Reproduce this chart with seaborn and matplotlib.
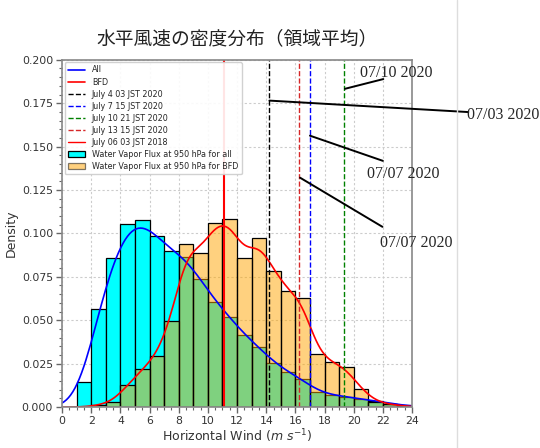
import numpy as np
import pandas as pd
import matplotlib
matplotlib.use("Agg")
import matplotlib.pyplot as plt
import seaborn as sns
from matplotlib.ticker import MultipleLocator
from matplotlib.lines import Line2D
from matplotlib.patches import Patch

# ---------------- data ----------------
all_bin_left = list(range(1, 24))
all_density = [0.0146, 0.0565, 0.0857, 0.1052, 0.1077, 0.0987, 0.0899, 0.0866,
               0.0736, 0.0607, 0.0520, 0.0413, 0.0347, 0.0255, 0.0202, 0.0160,
               0.0086, 0.0069, 0.0060, 0.0046, 0.0035, 0.0020, 0.0010]
bfd_bin_left = list(range(2, 24))
bfd_density = [0.0010, 0.0030, 0.0127, 0.0217, 0.0294, 0.0497, 0.0937, 0.0889,
               0.1062, 0.1081, 0.0860, 0.0972, 0.0785, 0.0668, 0.0630, 0.0305,
               0.0257, 0.0229, 0.0102, 0.0030, 0.0015, 0.0005]

event_labels = ["July 4 03 JST 2020", "July 7 15 JST 2020", "July 10 21 JST 2020",
                "July 13 15 JST 2020", "July 06 03 JST 2018"]
event_wind = [14.22, 17.0, 19.34, 16.25, 11.1]
event_colors = ["black", "blue", "green", "tab:red", "red"]
event_styles = ["--", "--", "--", "--", "-"]

annot_texts = ["07/10 2020", "07/03 2020", "07/07 2020", "07/07 2020"]
annot_xy = [(19.4, 0.1833), (14.22, 0.1765), (17.0, 0.1563), (16.32, 0.1321)]
annot_line_end = [(22.03, 0.1889), (27.86, 0.1699), (22.0, 0.1418), (21.97, 0.1038)]
annot_text_pos = [(20.4, 0.1925), (27.8, 0.1683), (20.9, 0.1343), (21.8, 0.0945)]

title = "水平風速の密度分布（領域平均）"

# ---------------- build tables ----------------
df_all = pd.DataFrame({"wind": np.array(all_bin_left) + 0.5, "w": all_density})
df_bfd = pd.DataFrame({"wind": np.array(bfd_bin_left) + 0.5, "w": bfd_density})
all_edges = all_bin_left + [all_bin_left[-1] + 1]
bfd_edges = bfd_bin_left + [bfd_bin_left[-1] + 1]

sns.set_style("ticks")
plt.rcParams["font.family"] = ["DejaVu Sans", "Noto Sans CJK JP"]

fig = plt.figure(figsize=(5.4, 4.48), dpi=100)
ax = fig.add_axes([0.115, 0.0915, 0.648, 0.775])

sns.histplot(data=df_all, x="wind", weights="w", bins=all_edges, stat="count",
             color="cyan", alpha=1.0, edgecolor="black", linewidth=0.9, ax=ax)
sns.histplot(data=df_bfd, x="wind", weights="w", bins=bfd_edges, stat="count",
             color="orange", alpha=0.5, edgecolor="black", linewidth=0.9, ax=ax)

sns.kdeplot(data=df_all, x="wind", weights="w", bw_adjust=0.36, color="blue",
            lw=1.2, ax=ax)
sns.kdeplot(data=df_bfd, x="wind", weights="w", bw_adjust=0.33, color="red",
            lw=1.2, ax=ax)

for xv, c, ls in zip(event_wind, event_colors, event_styles):
    ax.axvline(xv, color=c, ls=ls, lw=1.5 if ls == "-" else 1.0)

for t, xy, le, tp in zip(annot_texts, annot_xy, annot_line_end, annot_text_pos):
    ax.annotate("", xy=xy, xytext=le, annotation_clip=False,
                arrowprops=dict(arrowstyle="-", color="black", lw=1.4,
                                shrinkA=0, shrinkB=0))
    ax.text(tp[0], tp[1], t, family="Liberation Serif", fontsize=11.5,
            ha="left", va="center", clip_on=False)

ax.set_xlim(0, 24)
ax.set_ylim(0, 0.2)
ax.xaxis.set_major_locator(MultipleLocator(2))
ax.xaxis.set_minor_locator(MultipleLocator(0.5))
ax.yaxis.set_major_locator(MultipleLocator(0.025))
ax.yaxis.set_minor_locator(MultipleLocator(0.005))
ax.yaxis.set_major_formatter(matplotlib.ticker.FormatStrFormatter("%.3f"))
ax.grid(True, which="major", color="#cccccc", ls=(0, (2, 2)), lw=0.8)
ax.set_axisbelow(True)

ax.tick_params(which="major", direction="out", length=4, width=1, colors="#666666",
               labelcolor="#333333", labelsize=7.8, pad=2.5)
ax.tick_params(which="minor", direction="out", length=2, width=0.8, colors="#666666")
for s in ax.spines.values():
    s.set_visible(True)
    s.set_color("#888888")
    s.set_linewidth(1.2)

ax.set_xlabel(r"Horizontal Wind ($m\ s^{-1}$)", fontsize=9, color="#333333",
              labelpad=1)
ax.set_ylabel("Density", fontsize=9, color="#333333", labelpad=3)
ax.set_title(title, family=["Noto Sans CJK JP", "DejaVu Sans"], fontsize=13.5,
             color="#222222", pad=11)

handles = [Line2D([], [], color="blue", lw=1.2), Line2D([], [], color="red", lw=1.2)]
labels = ["All", "BFD"]
for lab, c, ls in zip(event_labels, event_colors, event_styles):
    handles.append(Line2D([], [], color=c, ls=ls, lw=1.0))
    labels.append(lab)
handles.append(Patch(facecolor="cyan", edgecolor="black", lw=0.9))
labels.append("Water Vapor Flux at 950 hPa for all")
handles.append(Patch(facecolor="orange", edgecolor="black", lw=0.9, alpha=0.5))
labels.append("Water Vapor Flux at 950 hPa for BFD")
ax.legend(handles, labels, loc="upper left", fontsize=5.8, labelspacing=0.38,
          frameon=True, edgecolor="#cccccc", framealpha=0.9, borderaxespad=0.3,
          handlelength=2.2)

fig.add_artist(Line2D([457 / 540, 457 / 540], [0, 1], color="#dddddd", lw=1,
                      transform=fig.transFigure))

fig.savefig("out.png", dpi=100)
